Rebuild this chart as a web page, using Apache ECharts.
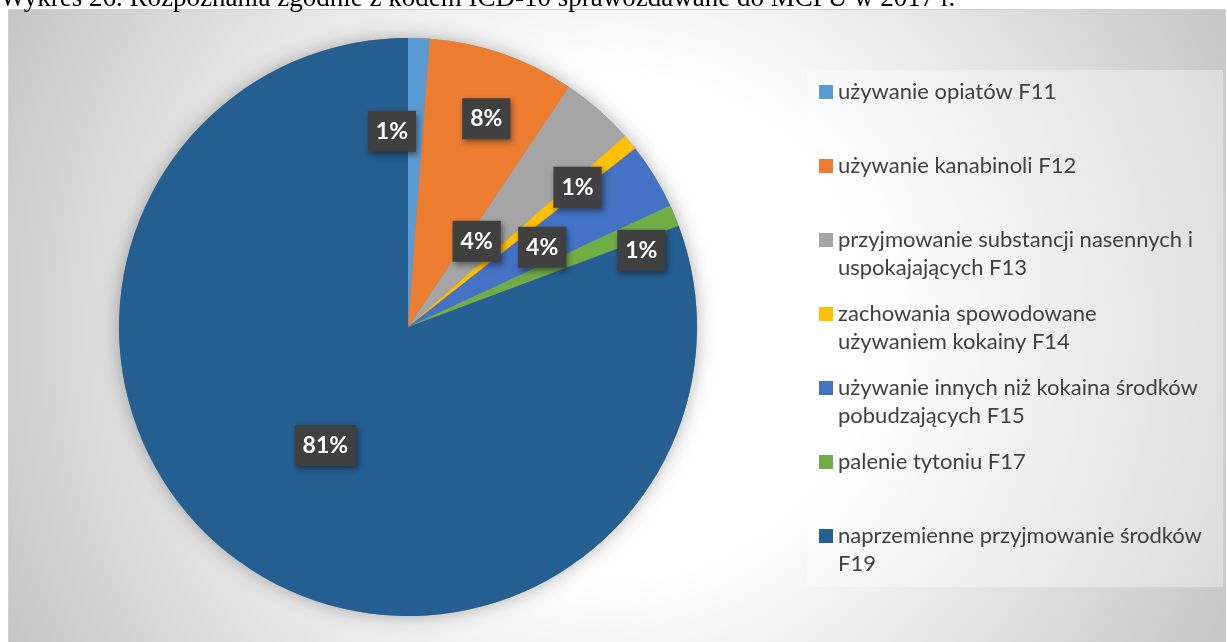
<!DOCTYPE html>
<html>
<head>
<meta charset="utf-8">
<title>Wykres 26</title>
<script src="https://cdn.jsdelivr.net/npm/echarts@6/dist/echarts.min.js"></script>
<style>
  html, body { margin: 0; padding: 0; background: #fff; overflow: hidden; }
  #chart { width: 1227px; height: 642px; }
</style>
</head>
<body>
<div id="chart"></div>
<script>
  const titleText = 'Wykres 26. Rozpoznania zgodnie z kodem ICD-10 sprawozdawane do MCPU w 2017 r.'

  const categories = [
    'używanie opiatów F11',
    'używanie kanabinoli F12',
    'przyjmowanie substancji nasennych i uspokajających F13',
    'zachowania spowodowane używaniem kokainy F14',
    'używanie innych niż kokaina środków pobudzających F15',
    'palenie tytoniu F17',
    'naprzemienne przyjmowanie środków F19'
  ]
  // legend text broken the way the original wraps it
  const legendLines = [
    ['używanie opiatów F11'],
    ['używanie kanabinoli F12'],
    ['przyjmowanie substancji nasennych i', 'uspokajających F13'],
    ['zachowania spowodowane', 'używaniem kokainy F14'],
    ['używanie innych niż kokaina środków', 'pobudzających F15'],
    ['palenie tytoniu F17'],
    ['naprzemienne przyjmowanie środków', 'F19']
  ]
  // share of diagnoses, %
  const shares = [1.2, 8.2, 4.1, 0.9, 3.7, 1.2, 80.7]
  const colors = ['#5b9bd5', '#ed7d31', '#a5a5a5', '#ffc000', '#4472c4', '#70ad47', '#255e91']

  // where the data labels sit: angle (deg, clockwise from 12 o'clock) and fraction of radius
  const labelAngles = [-4.7, 20.6, 38.7, 50.5, 59.3, 71.8, 214.9]
  const labelRadii = [0.68, 0.77, 0.38, 0.76, 0.54, 0.85, 0.5]

  const pieCenter = [408, 327]
  const pieRadius = 289

  const pieData = categories.map((name, i) => ({
    name: name,
    value: shares[i],
    itemStyle: { color: colors[i] }
  }))

  const chart = echarts.init(document.getElementById('chart'), null, { renderer: 'canvas' })

  chart.setOption({
    animation: false,
    graphic: [
      {
        type: 'rect',
        z: -10,
        silent: true,
        shape: { x: 8.5, y: 9.5, width: 1217, height: 640 },
        style: {
          fill: new echarts.graphic.RadialGradient(617, 326, 690, [
            { offset: 0, color: '#ffffff' },
            { offset: 0.36, color: '#ffffff' },
            { offset: 1, color: '#c5c5c5' }
          ], true),
          stroke: '#d0d0d0',
          lineWidth: 1
        }
      },
      {
        // legend panel
        type: 'rect',
        z: -9,
        silent: true,
        shape: { x: 807, y: 70, width: 416, height: 517 },
        style: { fill: 'rgba(255,255,255,0.35)' }
      },
      {
        type: 'text',
        silent: true,
        style: {
          x: 0,
          y: -1,
          text: titleText,
          font: '27px "Liberation Serif", serif',
          fill: '#000',
          verticalAlign: 'middle'
        }
      }
    ],
    legend: {
      orient: 'vertical',
      left: 819,
      top: 50,
      padding: 0,
      itemGap: -10,
      itemWidth: 14,
      itemHeight: 14,
      icon: 'rect',
      selectedMode: false,
      data: categories,
      formatter: function (name) {
        const lines = legendLines[categories.indexOf(name)]
        // blank line on top keeps the marker level with the first line
        return [' ', lines[0], lines[1] || ' '].join('\n')
      },
      textStyle: {
        fontFamily: 'Lato',
        fontSize: 22,
        lineHeight: 28,
        color: '#404040'
      }
    },
    series: [
      {
        name: 'rozpoznania',
        type: 'pie',
        z: 3,
        center: pieCenter,
        radius: pieRadius,
        startAngle: 90,
        clockwise: true,
        avoidLabelOverlap: false,
        data: pieData,
        label: {
          show: true,
          position: 'inside',
          formatter: p => Math.round(p.percent) + '%',
          fontFamily: 'Lato',
          fontWeight: 'bold',
          fontSize: 23,
          color: '#fff',
          backgroundColor: '#404040',
          padding: [10, 8, 8, 8],
          shadowColor: 'rgba(0,0,0,0.45)',
          shadowBlur: 6,
          shadowOffsetX: 2,
          shadowOffsetY: 3
        },
        labelLine: { show: false },
        labelLayout: function (params) {
          const i = params.dataIndex
          const a = labelAngles[i] * Math.PI / 180
          const r = labelRadii[i] * pieRadius
          return {
            x: pieCenter[0] + r * Math.sin(a),
            y: pieCenter[1] - r * Math.cos(a),
            align: 'center',
            verticalAlign: 'middle'
          }
        },
        emphasis: { disabled: true }
      },
      {
        // same slices drawn behind, only to throw the soft outer shadow
        name: 'cien',
        type: 'pie',
        z: 1,
        silent: true,
        center: pieCenter,
        radius: pieRadius,
        data: shares.map((v, i) => ({ name: categories[i], value: v })),
        label: { show: false },
        labelLine: { show: false },
        itemStyle: {
          color: '#888',
          shadowColor: 'rgba(0,0,0,0.3)',
          shadowBlur: 18
        },
        emphasis: { disabled: true }
      }
    ]
  })
</script>
</body>
</html>
